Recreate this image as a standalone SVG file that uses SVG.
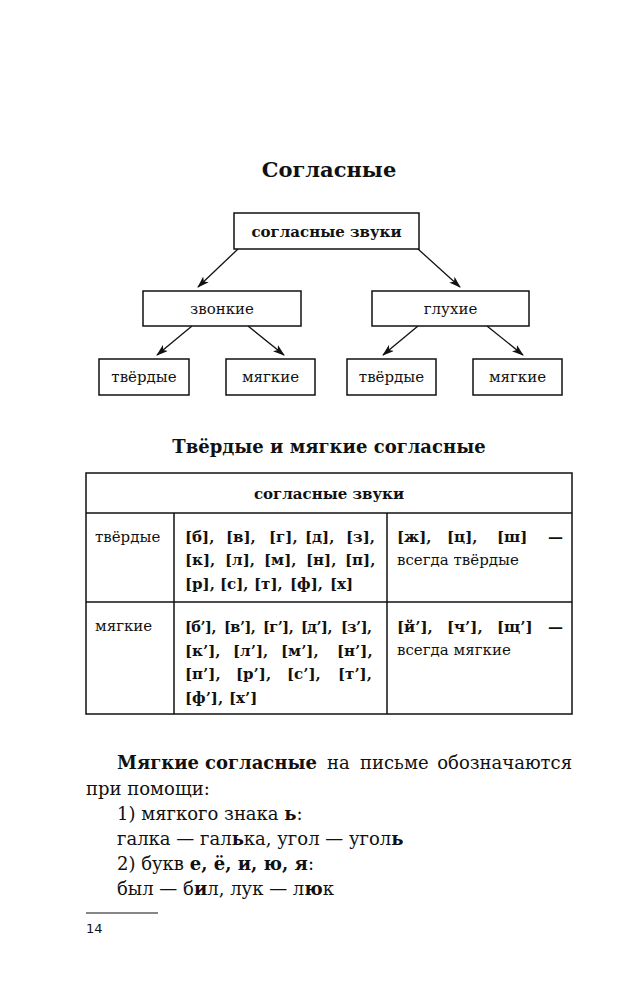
<svg xmlns="http://www.w3.org/2000/svg" width="644" height="1000" viewBox="0 0 644 1000">
<style>
text{font-family:"DejaVu Serif","Liberation Serif",serif;fill:#111}
.b{font-weight:bold}
.box{fill:#fff;stroke:#111;stroke-width:1.5}
.ln{stroke:#111;stroke-width:1.3;fill:none}
.tl{stroke:#111;stroke-width:1.5;fill:none}
.node{font-size:15px;text-anchor:middle}
.cell{font-size:15px}
.snd{font-size:15px;font-weight:bold}
.tight{font-size:14.5px;letter-spacing:-0.5px}
.body{font-size:18px}
</style>
<defs>
<marker id="ah" markerWidth="12" markerHeight="8" refX="11" refY="4" orient="auto" markerUnits="userSpaceOnUse">
<path d="M0,0 L12,4 L0,8 L3,4 Z" fill="#111"/>
</marker>
</defs>
<rect width="644" height="1000" fill="#fff"/>

<text id="title" x="329" y="177" class="b" font-size="21" text-anchor="middle">Согласные</text>

<g id="connectors">
<line class="ln" x1="238" y1="249" x2="198" y2="287" marker-end="url(#ah)"/>
<line class="ln" x1="418" y1="249" x2="460" y2="287" marker-end="url(#ah)"/>
<line class="ln" x1="192" y1="326" x2="157" y2="355" marker-end="url(#ah)"/>
<line class="ln" x1="248" y1="326" x2="284" y2="355" marker-end="url(#ah)"/>
<line class="ln" x1="418" y1="326" x2="383" y2="355" marker-end="url(#ah)"/>
<line class="ln" x1="487" y1="326" x2="523" y2="355" marker-end="url(#ah)"/>
</g>

<g id="n-root"><rect class="box" x="234" y="213" width="185" height="36"/><text class="node b" x="326.5" y="237">согласные звуки</text></g>
<g id="n-zvonkie"><rect class="box" x="143" y="291" width="158" height="35"/><text class="node" x="222" y="314">звонкие</text></g>
<g id="n-glukhie"><rect class="box" x="372" y="291" width="157" height="35"/><text class="node" x="450.5" y="314">глухие</text></g>
<g id="n-tv1"><rect class="box" x="99" y="359" width="90" height="36"/><text class="node" x="144" y="382">твёрдые</text></g>
<g id="n-mg1"><rect class="box" x="226" y="359" width="89" height="36"/><text class="node" x="270.5" y="382">мягкие</text></g>
<g id="n-tv2"><rect class="box" x="347" y="359" width="89" height="36"/><text class="node" x="391.5" y="382">твёрдые</text></g>
<g id="n-mg2"><rect class="box" x="473" y="359" width="89" height="36"/><text class="node" x="517.5" y="382">мягкие</text></g>

<text id="title2" x="329" y="453" class="b" font-size="18" text-anchor="middle">Твёрдые и мягкие согласные</text>

<g id="table">
<rect class="tl" x="86" y="473" width="486" height="241"/>
<line class="tl" x1="86" y1="513" x2="572" y2="513"/>
<line class="tl" x1="86" y1="602" x2="572" y2="602"/>
<line class="tl" x1="174" y1="513" x2="174" y2="714"/>
<line class="tl" x1="387" y1="513" x2="387" y2="714"/>
<text class="cell b" x="329" y="499" text-anchor="middle">согласные звуки</text>
<text class="cell" x="95" y="542">твёрдые</text>
<text class="cell" x="95" y="631">мягкие</text>

<text class="snd" y="542"><tspan x="185">[б],</tspan><tspan x="226">[в],</tspan><tspan x="269">[г],</tspan><tspan x="305">[д],</tspan><tspan x="346">[з],</tspan></text>
<text class="snd" y="565"><tspan x="185">[к],</tspan><tspan x="225">[л],</tspan><tspan x="264">[м],</tspan><tspan x="306">[н],</tspan><tspan x="345">[п],</tspan></text>
<text class="snd" y="589"><tspan x="185">[р],</tspan><tspan x="220">[с],</tspan><tspan x="254">[т],</tspan><tspan x="290">[ф],</tspan><tspan x="330">[х]</tspan></text>

<text class="snd tight" y="632"><tspan x="185">[б’],</tspan><tspan x="224">[в’],</tspan><tspan x="263">[г’],</tspan><tspan x="301">[д’],</tspan><tspan x="341">[з’],</tspan></text>
<text class="snd" y="656"><tspan x="185">[к’],</tspan><tspan x="233">[л’],</tspan><tspan x="281">[м’],</tspan><tspan x="337">[н’],</tspan></text>
<text class="snd" y="679"><tspan x="185">[п’],</tspan><tspan x="236">[р’],</tspan><tspan x="287">[с’],</tspan><tspan x="338">[т’],</tspan></text>
<text class="snd" y="703"><tspan x="185">[ф’],</tspan><tspan x="229">[х’]</tspan></text>

<text class="snd" y="542"><tspan x="397">[ж],</tspan><tspan x="447">[ц],</tspan><tspan x="497">[ш]</tspan><tspan x="548">—</tspan></text>
<text class="cell" x="397" y="565">всегда твёрдые</text>
<text class="snd" y="632"><tspan x="397">[й’],</tspan><tspan x="447">[ч’],</tspan><tspan x="497">[щ’]</tspan><tspan x="548">—</tspan></text>
<text class="cell" x="397" y="655">всегда мягкие</text>
</g>

<g id="body">
<text class="body b" x="117" y="769">Мягкие</text>
<text class="body b" x="205" y="769">согласные</text>
<text class="body" x="327" y="769">на</text>
<text class="body" x="360" y="769">письме</text>
<text class="body" x="572" y="769" text-anchor="end">обозначаются</text>
<text class="body" x="86" y="795">при помощи:</text>
<text class="body" x="117" y="820">1) мягкого знака <tspan class="b">ь</tspan>:</text>
<text class="body" x="117" y="845">галка — гал<tspan class="b">ь</tspan>ка, угол — угол<tspan class="b">ь</tspan></text>
<text class="body" x="117" y="870">2) букв <tspan class="b">е, ё, и, ю, я</tspan>:</text>
<text class="body" x="117" y="895">был — б<tspan class="b">и</tspan>л, лук — л<tspan class="b">ю</tspan>к</text>
</g>

<line x1="86" y1="913" x2="158" y2="913" stroke="#111" stroke-width="1.2"/>
<text x="86" y="933" style="font-family:'DejaVu Sans',sans-serif" font-size="13">14</text>
</svg>
